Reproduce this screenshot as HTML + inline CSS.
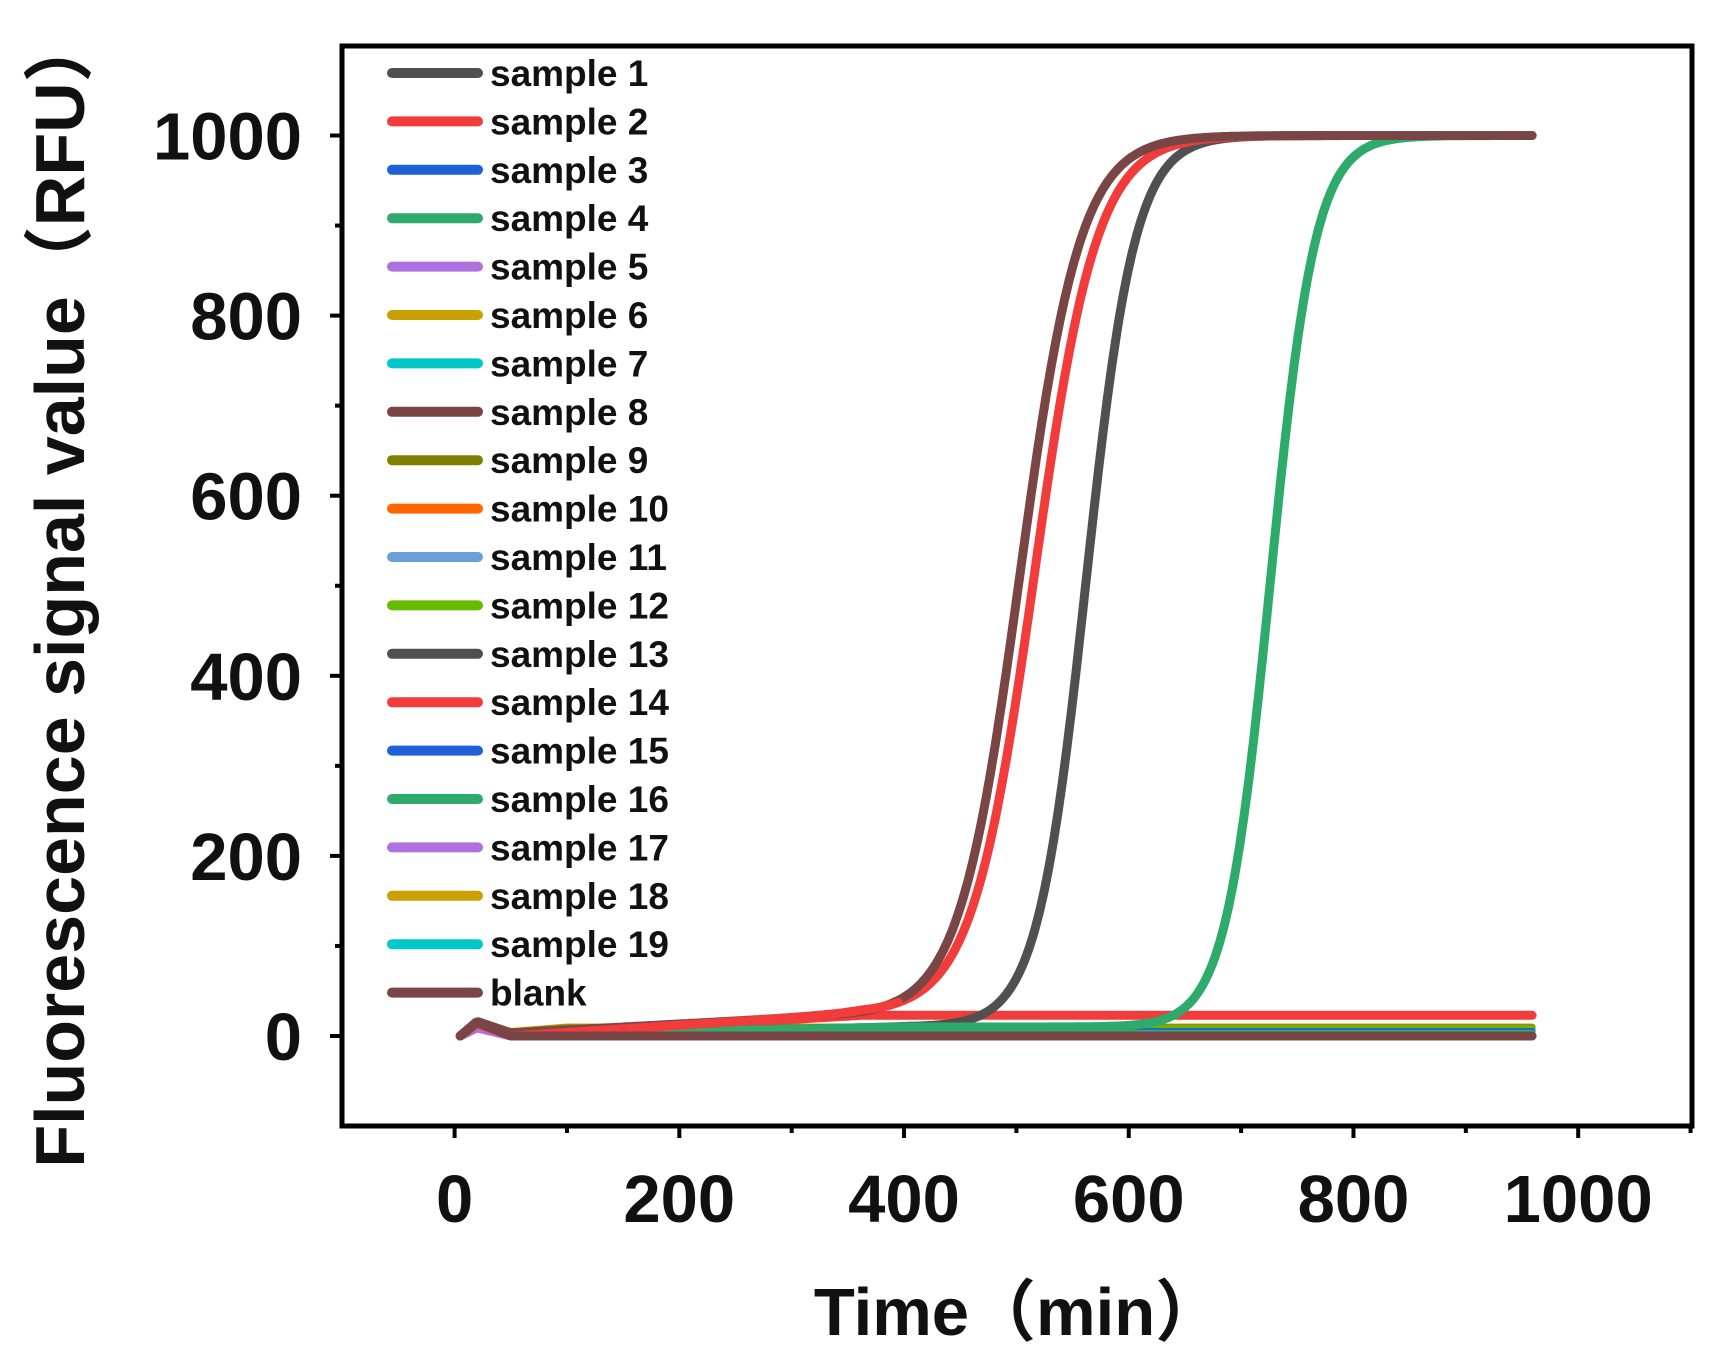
<!DOCTYPE html>
<html><head><meta charset="utf-8"><style>
html,body{margin:0;padding:0;background:#fff;}
svg{display:block;font-family:"Liberation Sans",Arial,sans-serif;}
</style></head><body>
<svg id="s" width="1714" height="1364" xmlns="http://www.w3.org/2000/svg">
<rect x="0" y="0" width="1714" height="1364" fill="#fff"/>
<g id="curves" fill="none" stroke-linecap="round" stroke-linejoin="round"></g>
<rect x="342" y="46" width="1350" height="1080" fill="none" stroke="#000" stroke-width="5"/>
<g id="ticks" stroke="#000" stroke-width="4"></g>
<g id="labels" font-weight="bold" font-size="67" fill="#111"></g>
<g id="legend" font-weight="bold" font-size="37" fill="#111"></g>
<text x="1018" y="1335" text-anchor="middle" font-weight="bold" font-size="67" fill="#111" font-family="'Liberation Sans','Noto Sans CJK SC',sans-serif">Time（min）</text>
<text transform="translate(84,590) rotate(-90)" text-anchor="middle" font-weight="bold" font-size="70" fill="#111" font-family="'Liberation Sans','Noto Sans CJK SC',sans-serif">Fluorescence signal value（RFU）</text>
</svg>
<script>
var NS="http://www.w3.org/2000/svg";
function X(t){return 454.6+1.1236*t;}
function Y(v){return 1036-0.9005*v;}
function el(p,n,a,txt){var e=document.createElementNS(NS,n);for(var k in a)e.setAttribute(k,a[k]);if(txt!==undefined)e.textContent=txt;document.getElementById(p).appendChild(e);return e;}
function sig(t,m,k){return 1/(1+Math.exp(-k*(t-m)));}
function path(f,col,w,t0,t1){t0=t0||5;t1=t1||960;var d="";for(var t=t0;t<=t1;t+=2){d+=(t==t0?"M":"L")+X(t).toFixed(1)+","+Y(f(t)).toFixed(1);}el("curves","path",{d:d,stroke:col,"stroke-width":w||9});}
function bump(t){return t<20?(t-5)*1.0:(t<50?Math.max(0,15-(t-20)*0.5):0);}
var flats=[["#c8a000",10],["#00c8c8",8],["#808000",9],["#ff6600",8],["#6aa0d8",7],["#66bb00",8],["#1f5fd8",5],["#b070e0",-1],["#2eaa6a",3]];
flats.forEach(function(c){path(function(t){return c[1]*Math.min(1,t/100)+bump(t);},c[0],7);});
path(function(t){return 0+bump(t)*0.6;},"#b070e0",9);
function redBase(t){return t<50?bump(t):Math.min(25,(t-50)*0.08);}
path(function(t){return redBase(t)*0.92;},"#f23c3c",9);
path(function(t){var s=sig(t,562,0.046);return (bump(t)+Math.min(10,t/40))*(1-s)+1000*s;},"#505050",9);
path(function(t){var s=sig(t,726,0.05);return (bump(t)+Math.min(10,t/40))*(1-s)+1000*s;},"#2eaa6a",9);
path(function(t){var s=sig(t,516,0.036);return redBase(t)*(1-s)+1000*s;},"#f23c3c",9);
path(function(t){var s=sig(t,503,0.037);return (bump(t)+Math.min(22,t/15))*(1-s)+1000*s;},"#7a4545",9);
path(function(t){var s=sig(t,516,0.036);return redBase(t)*(1-s)+1000*s;},"#f23c3c",9,5,395);
path(function(t){return bump(t);},"#7a4545",9);
for(var v=-100;v<=1100;v+=100){var y=Y(v);var maj=(v%200==0);if(y<47||y>1125)continue;el("ticks","line",{x1:342,x2:maj?330:335,y1:y,y2:y});if(maj)el("labels","text",{x:302,y:y+24,"text-anchor":"end"},String(v));}
for(var t=-100;t<=1100;t+=100){var x=X(t);var maj=(t%200==0);if(x<343||x>1691)continue;el("ticks","line",{x1:x,x2:x,y1:1126,y2:maj?1138:1133});if(maj)el("labels","text",{x:x,y:1222,"text-anchor":"middle"},String(t));}
var L=[["#505050","sample 1"],["#f23c3c","sample 2"],["#1f5fd8","sample 3"],["#2eaa6a","sample 4"],["#b070e0","sample 5"],["#c8a000","sample 6"],["#00c8c8","sample 7"],["#7a4545","sample 8"],["#808000","sample 9"],["#ff6600","sample 10"],["#6aa0d8","sample 11"],["#66bb00","sample 12"],["#505050","sample 13"],["#f23c3c","sample 14"],["#1f5fd8","sample 15"],["#2eaa6a","sample 16"],["#b070e0","sample 17"],["#c8a000","sample 18"],["#00c8c8","sample 19"],["#7a4545","blank"]];
L.forEach(function(l,i){var y=73+i*48.4;el("legend","line",{x1:392,x2:478,y1:y,y2:y,stroke:l[0],"stroke-width":10,"stroke-linecap":"round"});el("legend","text",{x:490,y:y+13},l[1]);});
</script>
</body></html>
